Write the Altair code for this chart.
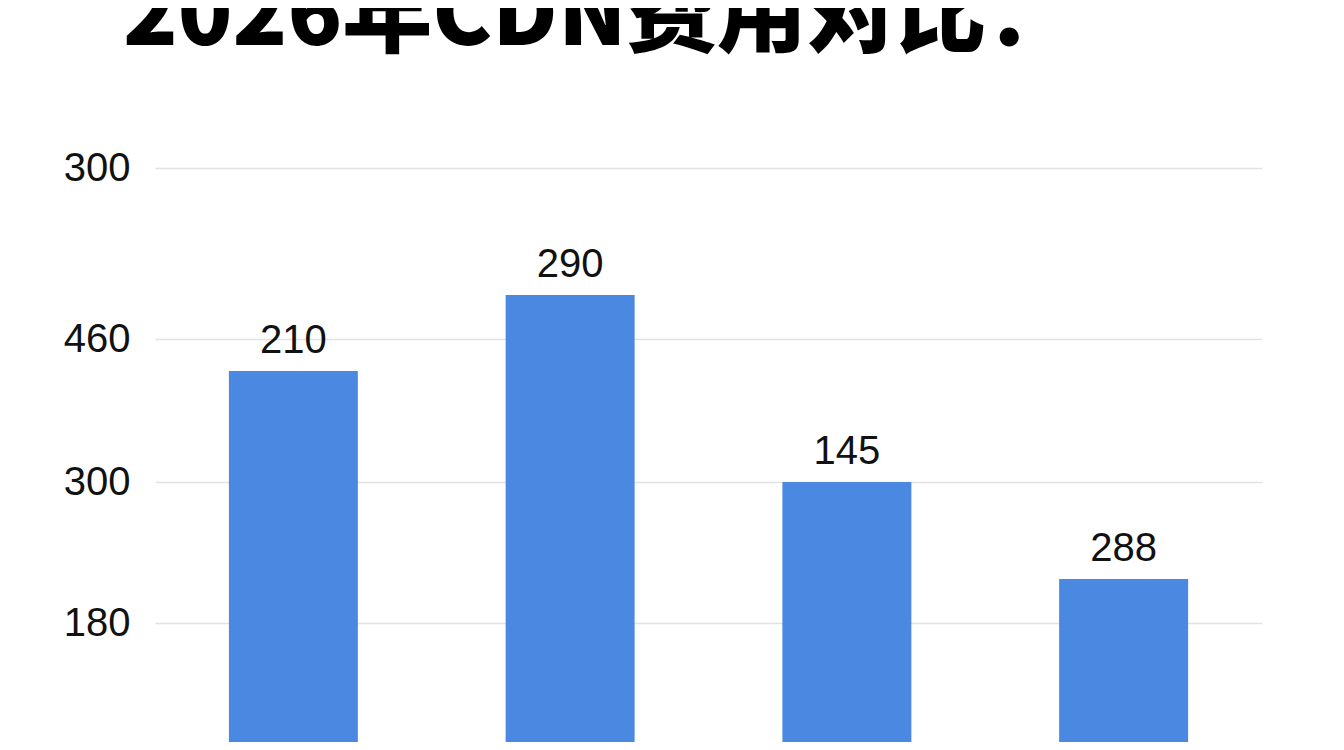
import altair as alt
import pandas as pd

# ---- data ----
title_text = "2026年CDN费用对比："
categories = ["方案A", "方案B", "方案C", "方案D"]
# bar heights on the (hidden) vertical scale, measured up from the cut-off bottom
bar_heights = [371, 447, 260, 163]
# labels printed above the bars
bar_labels = ["210", "290", "145", "288"]
# grid positions on the same scale, and the (odd) text printed at each of them
grid_values = [119, 260, 403, 574]
grid_labels = ["180", "300", "460", "300"]

df = pd.DataFrame({"cat": categories, "h": bar_heights, "lab": bar_labels})
title_df = pd.DataFrame({"t": [title_text]})

# label expression mapping grid positions to printed labels
expr = "''"
for v, l in zip(grid_values, grid_labels):
    expr = f"datum.value == {v} ? '{l}' : ({expr})"

x_enc = alt.X("cat:N", sort=categories, axis=None,
              scale=alt.Scale(paddingInner=0.534, paddingOuter=0.267))
y_scale = alt.Scale(domain=[0, 642], nice=False, zero=True)

bars = alt.Chart(df).mark_bar(color="#4a88e2").encode(
    x=x_enc,
    y=alt.Y("h:Q", scale=y_scale, title=None,
            axis=alt.Axis(values=grid_values, labelExpr=expr, grid=True,
                          domain=False, ticks=False, labelPadding=25,
                          labelFontSize=40, labelFont="Liberation Sans",
                          labelColor="#111111", labelBaseline="middle",
                          gridColor="#e2e2e2", gridWidth=1.5)),
)

labels = alt.Chart(df).mark_text(
    font="Liberation Sans", fontSize=40, color="#111111",
    baseline="alphabetic", align="center", dy=-18,
).encode(x=x_enc, y=alt.Y("h:Q", scale=y_scale), text="lab:N")

title = alt.Chart(title_df).mark_text(
    font="Noto Sans CJK SC", fontSize=90, fontWeight=900, color="#000000",
    align="left", baseline="alphabetic",
).encode(x=alt.value(-32), y=alt.value(-55), text="t:N")

chart = alt.layer(bars, labels, title).properties(
    width=1107, height=642,
    autosize=alt.AutoSizeParams(type="none"),
    padding={"left": 147, "top": 92, "right": 74, "bottom": 0},
    background="white",
).configure_view(stroke=None)

chart.save("out.html", embed_options={"renderer": "svg", "actions": False})
